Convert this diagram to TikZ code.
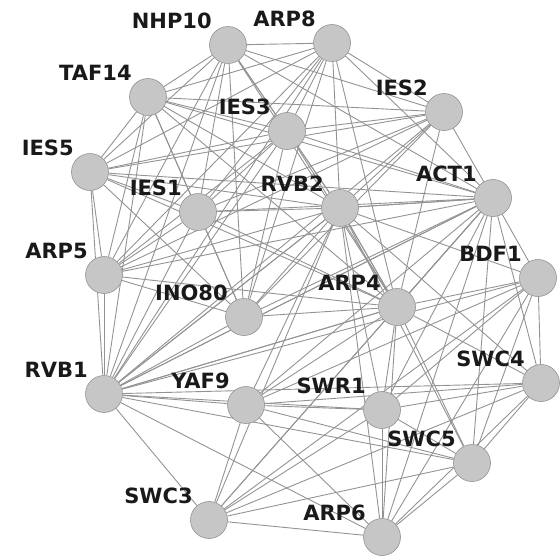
\documentclass[tikz,border=0pt]{standalone}
\usepackage{fontspec}
\newfontfamily\lblfont{DejaVu Sans}
\usetikzlibrary{backgrounds}

\begin{document}
\begin{tikzpicture}[
  x=1pt, y=-1pt,
  prot/.style={circle, draw=gray!85, line width=0.6pt, fill=gray!45, minimum size=37pt, inner sep=0pt},
  lbl/.style={font=\lblfont\bfseries\fontsize{21}{21}\selectfont, text=black!90, inner sep=0pt},
  every label/.style={lbl},
  label distance=4pt,
  link/.style={draw=gray!85, line width=0.9pt}]
\useasboundingbox (0,0) rectangle (560,560);
% proteins
\node[prot, label={north west:NHP10}] (nhp10) at (228,45) {};
\node[prot, label={north west:ARP8}] (arp8) at (332,43) {};
\node[prot, label={north west:TAF14}] (taf14) at (148,97) {};
\node[prot, label={north west:IES3}] (ies3) at (287,131) {};
\node[prot, label={north west:IES2}] (ies2) at (444,112) {};
\node[prot, label={north west:IES5}] (ies5) at (90,172) {};
\node[prot, label={north west:IES1}] (ies1) at (198,212) {};
\node[prot, label={north west:RVB2}] (rvb2) at (340,208) {};
\node[prot, label={north west:ACT1}] (act1) at (493,198) {};
\node[prot, label={north west:ARP5}] (arp5) at (104,275) {};
\node[prot, label={north west:BDF1}] (bdf1) at (538,278) {};
\node[prot, label={north west:INO80}] (ino80) at (244,317) {};
\node[prot, label={north west:ARP4}] (arp4) at (397,307) {};
\node[prot, label={north west:RVB1}] (rvb1) at (104,394) {};
\node[prot, label={north west:YAF9}] (yaf9) at (246,405) {};
\node[prot, label={north west:SWR1}] (swr1) at (382,410) {};
\node[prot, label={north west:SWC4}] (swc4) at (541,383) {};
\node[prot, label={north west:SWC5}] (swc5) at (472,463) {};
\node[prot, label={north west:SWC3}] (swc3) at (209,520) {};
\node[prot, label={north west:ARP6}] (arp6) at (382,537) {};
% interactions, INO80 and SWR1 groups
\begin{scope}[on background layer]
\foreach \a [count=\i] in {nhp10,arp8,taf14,ies3,ies2,ies5,ies1,rvb2,act1,arp5,ino80,arp4,rvb1}
  \foreach \b [count=\j] in {nhp10,arp8,taf14,ies3,ies2,ies5,ies1,rvb2,act1,arp5,ino80,arp4,rvb1}
    {\ifnum\j>\i \draw[link] (\a) -- (\b);\fi}
\foreach \a [count=\i] in {swr1,swc4,swc5,swc3,arp6,yaf9,bdf1,act1,arp4,rvb1,rvb2}
  \foreach \b [count=\j] in {swr1,swc4,swc5,swc3,arp6,yaf9,bdf1,act1,arp4,rvb1,rvb2}
    {\ifnum\j>\i \draw[link] (\a) -- (\b);\fi}
\end{scope}
\end{tikzpicture}
\end{document}
